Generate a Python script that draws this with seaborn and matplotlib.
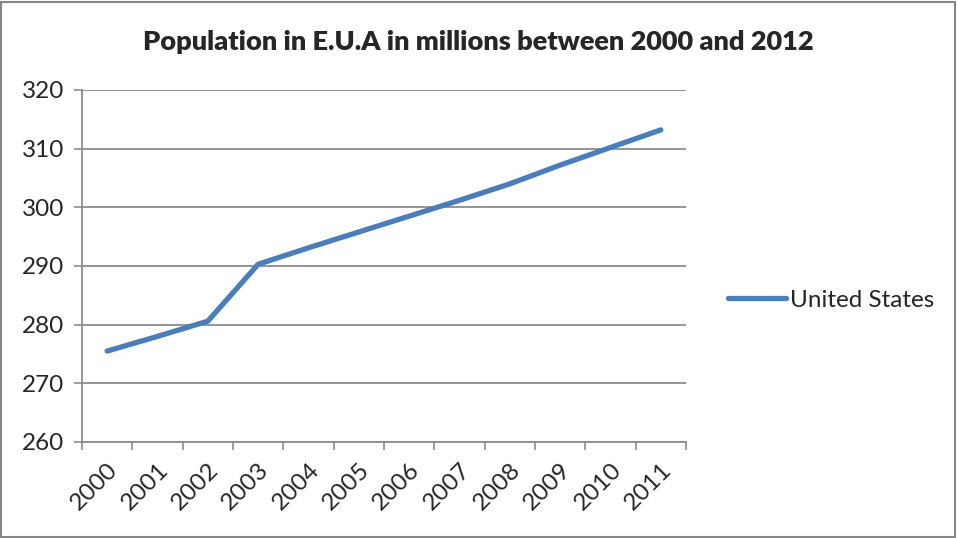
import matplotlib
matplotlib.use("Agg")
import matplotlib.pyplot as plt
import seaborn as sns
import pandas as pd
from matplotlib.patches import Rectangle
from matplotlib.lines import Line2D

# Population of the United States (millions)
years = ["2000", "2001", "2002", "2003", "2004", "2005",
         "2006", "2007", "2008", "2009", "2010", "2011"]
population = [275.5, 278.0, 280.6, 290.3, 293.1, 295.8,
              298.5, 301.2, 304.0, 307.2, 310.2, 313.2]
series_name = "United States"
title = "Population in E.U.A in millions between 2000 and 2012"
y_ticks = [260, 270, 280, 290, 300, 310, 320]

sns.set_style("white")
plt.rcParams["font.family"] = ["Lato", "DejaVu Sans"]

df = pd.DataFrame({"pos": range(len(years)), "year": years, "value": population})

fig = plt.figure(figsize=(9.57, 5.38), dpi=100)
ax = fig.add_axes([82 / 957, 1 - 442 / 538, (686 - 82) / 957, (442 - 90) / 538])

line_color = "#4A7EBB"
grid_color = "#8C8C8C"

sns.lineplot(data=df, x="pos", y="value", ax=ax, color=line_color,
             linewidth=3.8, solid_capstyle="round", solid_joinstyle="round",
             legend=False, zorder=3)

ax.set_xlim(-0.5, len(years) - 0.5)
ax.set_ylim(y_ticks[0], y_ticks[-1])
ax.set_yticks(y_ticks)
ax.set_yticklabels([str(t) for t in y_ticks], fontsize=17.5)
ax.yaxis.grid(True, color=grid_color, linewidth=1.3)
ax.set_axisbelow(True)

# category labels centred on each point, tick marks on the category boundaries
ax.set_xticks(range(len(years)))
ax.set_xticklabels(years, rotation=45, ha="right", va="top",
                   rotation_mode="anchor", fontsize=17.5)
ax.set_xticks([i - 0.5 for i in range(len(years) + 1)], minor=True)
ax.tick_params(axis="x", which="major", length=0, pad=12)
ax.tick_params(axis="x", which="minor", length=6, width=1.2, color=grid_color,
               direction="out", bottom=True)
ax.tick_params(axis="y", length=6, width=1.2, color=grid_color,
               direction="out", left=True, pad=7)
ax.set_xlabel("")
ax.set_ylabel("")

for side in ("top", "right"):
    ax.spines[side].set_visible(False)
for side in ("left", "bottom"):
    ax.spines[side].set_color(grid_color)
    ax.spines[side].set_linewidth(1.3)

fig.text(0.5, 1 - 42 / 538, title, ha="center", va="center",
         fontsize=19.5, fontweight="heavy")

# legend
handle = Line2D([0], [0], color=line_color, linewidth=3.8, solid_capstyle="round")
fig.legend([handle], [series_name], loc="center left",
           bbox_to_anchor=(706 / 957, 1 - 300 / 538), frameon=False,
           fontsize=17.5, handlelength=2.4, handletextpad=0.15)

# chart border
fig.patches.append(Rectangle((0.001, 0.002), 0.997, 0.995, transform=fig.transFigure,
                             fill=False, edgecolor="#868686", linewidth=1.5))

fig.savefig("out.png", dpi=100)
